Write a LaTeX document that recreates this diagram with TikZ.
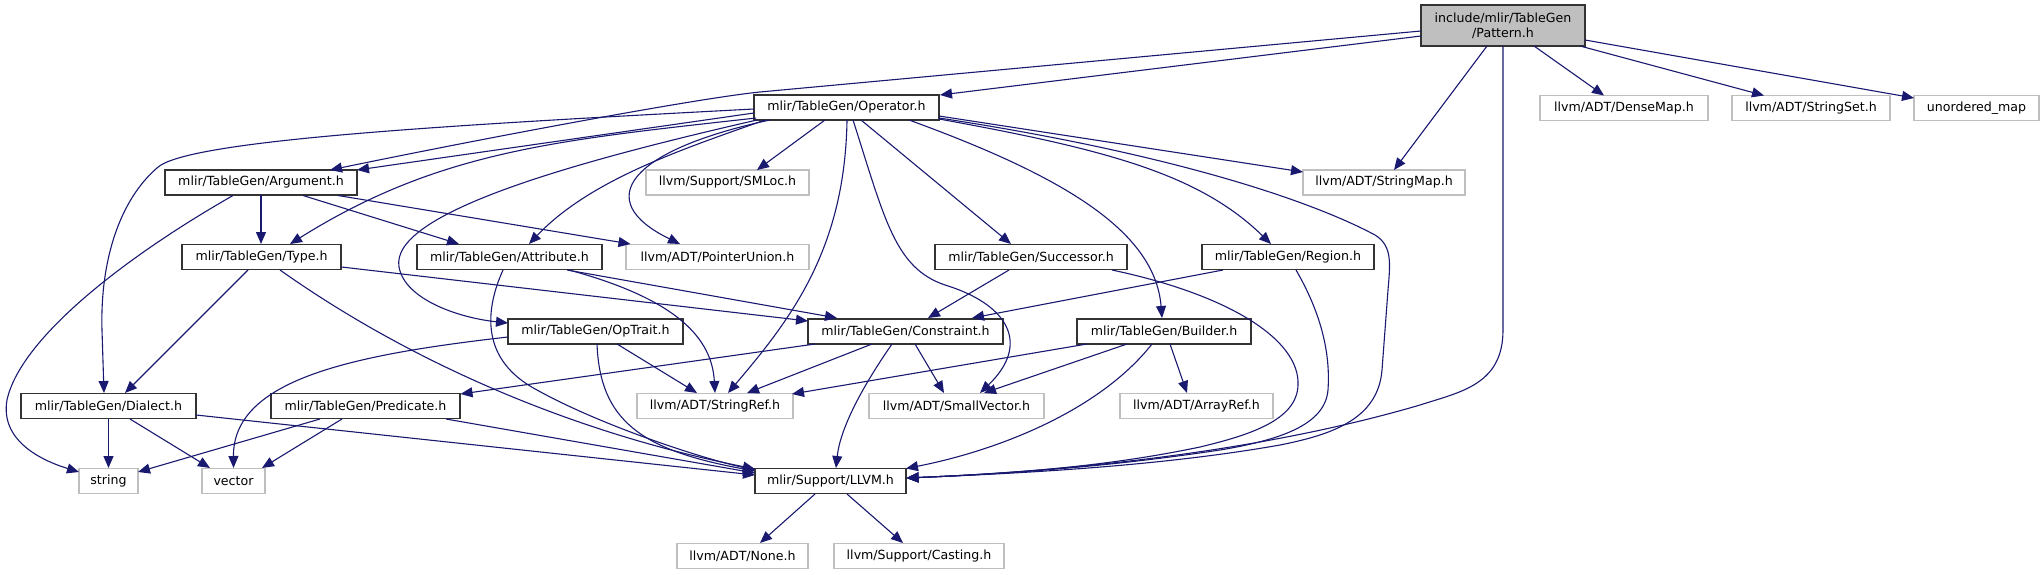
\documentclass[tikz,border=0pt]{standalone}
\usepackage{fontspec}
\setmainfont{DejaVu Sans}
\usetikzlibrary{arrows.meta,calc}
\definecolor{edgec}{HTML}{191970}
\definecolor{grayb}{HTML}{BFBFBF}
\definecolor{boxb}{HTML}{333333}
\begin{document}
\begin{tikzpicture}[x=1pt,y=-1pt,
  font=\fontsize{12.6}{15}\selectfont,
  box/.style={draw=boxb, line width=1.5pt, fill=white, inner sep=0pt, minimum height=25pt, align=center},
  ext/.style={box, draw=grayb},
  root/.style={box, fill=grayb, draw=boxb, minimum height=41pt},
  e/.style={draw=edgec, line width=1.1pt, -{Triangle[length=12pt,width=10pt]}},
]
\useasboundingbox (0,0) rectangle (2044,575);

% nodes
\node[root, minimum width=164pt] (pat) at (1503,25.5) {include/mlir/TableGen\\/Pattern.h};
\node[box, minimum width=185pt] (op) at (846.5,107.5) {mlir/TableGen/Operator.h};
\node[ext, minimum width=168pt] (dmap) at (1624,108) {llvm/ADT/DenseMap.h};
\node[ext, minimum width=158pt] (sset) at (1811,108) {llvm/ADT/StringSet.h};
\node[ext, minimum width=125pt] (umap) at (1976.5,108) {unordered\_map};
\node[box, minimum width=192pt] (arg) at (261,182.5) {mlir/TableGen/Argument.h};
\node[ext, minimum width=163pt] (sml) at (727.5,182.5) {llvm/Support/SMLoc.h};
\node[ext, minimum width=162pt] (smap) at (1384,182.5) {llvm/ADT/StringMap.h};
\node[box, minimum width=159pt] (typ) at (261.5,257) {mlir/TableGen/Type.h};
\node[box, minimum width=185pt] (att) at (509.5,257) {mlir/TableGen/Attribute.h};
\node[ext, minimum width=183pt] (pu) at (717.5,257) {llvm/ADT/PointerUnion.h};
\node[box, minimum width=192pt] (suc) at (1031,257) {mlir/TableGen/Successor.h};
\node[box, minimum width=172pt] (reg) at (1288,257) {mlir/TableGen/Region.h};
\node[box, minimum width=175pt] (opt) at (595.5,331.5) {mlir/TableGen/OpTrait.h};
\node[box, minimum width=195pt] (con) at (905.5,331.5) {mlir/TableGen/Constraint.h};
\node[box, minimum width=174pt] (bld) at (1164,331.5) {mlir/TableGen/Builder.h};
\node[box, minimum width=175pt] (dia) at (108.5,406) {mlir/TableGen/Dialect.h};
\node[box, minimum width=189pt] (pred) at (365.5,406) {mlir/TableGen/Predicate.h};
\node[ext, minimum width=156pt] (sref) at (715,406) {llvm/ADT/StringRef.h};
\node[ext, minimum width=175pt] (svec) at (956.5,406) {llvm/ADT/SmallVector.h};
\node[ext, minimum width=153pt] (aref) at (1196.5,406) {llvm/ADT/ArrayRef.h};
\node[ext, minimum width=59pt] (str) at (108.5,481) {string};
\node[ext, minimum width=63pt] (vec) at (233.5,481) {vector};
\node[box, minimum width=151pt] (llvm) at (830.5,481) {mlir/Support/LLVM.h};
\node[ext, minimum width=131pt] (none) at (742.5,556) {llvm/ADT/None.h};
\node[ext, minimum width=170pt] (cast) at (919,556) {llvm/Support/Casting.h};

% Pattern.h
\draw[e] ($(pat)+(-82,10.5)$) -- ($(op)+(93.5,-12.5)$);
\draw[e] ($(pat)+(-82,5.5)$) -- (760,92) .. controls (700,98) and (500,135) .. ($(arg)+(69,-12.5)$);
\draw[e] ($(pat)+(-16,20.5)$) -- ($(smap)+(10,-12.5)$);
\draw[e] ($(pat)+(0,20.5)$) -- (1503,330) .. controls (1503,385) and (1460,392) .. (1420,405) .. controls (1250,455) and (1050,472) .. ($(llvm)+(76,-3)$);
\draw[e] ($(pat)+(31,20.5)$) -- ($(dmap)+(-20,-12.5)$);
\draw[e] ($(pat)+(77,20.5)$) -- ($(sset)+(-47,-12.5)$);
\draw[e] ($(pat)+(82,14.5)$) -- ($(umap)+(-62.5,-10)$);

% Operator.h
\draw[e] ($(op)+(-92.5,5.5)$) -- ($(arg)+(96,-12.5)$);
\draw[e] ($(op)+(-92.5,1.5)$) .. controls (450,125) and (185,140) .. (157,168) .. controls (120,200) and (100,260) .. (102,330) -- ($(dia)+(-4.5,-13)$);
\draw[e] ($(op)+(-90.5,10.5)$) .. controls (560,140) and (440,150) .. ($(typ)+(28.5,-13)$);
\draw[e] ($(op)+(-89.5,12.5)$) .. controls (560,165) and (390,215) .. (399,267) .. controls (405,300) and (460,318) .. ($(opt)+(-87.5,-8.5)$);
\draw[e] ($(op)+(-81.5,12.5)$) .. controls (680,150) and (590,180) .. ($(att)+(19.5,-13)$);
\draw[e] ($(op)+(-76.5,12.5)$) .. controls (630,150) and (590,200) .. ($(pu)+(-37.5,-13)$);
\draw[e] ($(op)+(-21.5,12.5)$) -- ($(sml)+(29.5,-12.5)$);
\draw[e] ($(op)+(0.5,12.5)$) .. controls (845,250) and (790,320) .. ($(sref)+(13,-13)$);
\draw[e] ($(op)+(6.5,12.5)$) .. controls (885,220) and (895,268) .. (945,285) .. controls (1010,305) and (1030,345) .. ($(svec)+(23.5,-13)$);
\draw[e] ($(op)+(14.5,12.5)$) -- ($(suc)+(-20,-13)$);
\draw[e] ($(op)+(62.5,12.5)$) .. controls (1060,175) and (1155,230) .. ($(bld)+(-2,-13.5)$);
\draw[e] ($(op)+(92.5,11.5)$) .. controls (1110,150) and (1200,175) .. ($(reg)+(-17,-13)$);
\draw[e] ($(op)+(92.5,8.5)$) -- ($(smap)+(-81,-10.5)$);
\draw[e] ($(op)+(92.5,10.5)$) .. controls (1150,150) and (1300,195) .. (1375,235) .. controls (1393,246) and (1390,265) .. (1388,290) -- (1382,370) .. controls (1378,420) and (1330,435) .. (1280,445) .. controls (1150,468) and (1000,474) .. ($(llvm)+(76,-3)$);

% Successor.h, Region.h
\draw[e] ($(suc)+(-22,13)$) -- ($(con)+(22.5,-13.5)$);
\draw[e] ($(suc)+(81,13)$) .. controls (1230,295) and (1300,340) .. (1298,385) .. controls (1297,420) and (1250,435) .. (1200,447) .. controls (1100,468) and (1000,474) .. ($(llvm)+(76,-3)$);
\draw[e] ($(reg)+(-65,13)$) -- ($(con)+(66.5,-13.5)$);
\draw[e] ($(reg)+(8,13)$) .. controls (1325,320) and (1330,360) .. (1328,390) .. controls (1325,425) and (1280,440) .. (1220,450) .. controls (1100,468) and (1000,474) .. ($(llvm)+(76,-3)$);

% Builder.h
\draw[e] ($(bld)+(-77,12.5)$) -- ($(sref)+(77,-12)$);
\draw[e] ($(bld)+(-37,12.5)$) -- ($(svec)+(27.5,-13)$);
\draw[e] ($(bld)+(-12,12.5)$) .. controls (1100,410) and (1000,450) .. ($(llvm)+(75.5,-12.5)$);
\draw[e] ($(bld)+(6,12.5)$) -- ($(aref)+(-9.5,-13)$);

% Constraint.h
\draw[e] ($(con)+(-33.5,12.5)$) -- ($(sref)+(32,-13)$);
\draw[e] ($(con)+(9.5,12.5)$) -- ($(svec)+(-12.5,-13)$);
\draw[e] ($(con)+(-13.5,12.5)$) .. controls (860,390) and (840,430) .. ($(llvm)+(5.5,-13)$);
\draw[e] ($(con)+(-90.5,12.5)$) -- ($(pred)+(95,-12)$);

% Attribute.h
\draw[e] ($(att)+(57.5,13)$) -- ($(con)+(-68.5,-13.5)$);
\draw[e] ($(att)+(59.5,13)$) .. controls (680,300) and (712,340) .. ($(sref)+(0,-13)$);
\draw[e] ($(att)+(-6.5,13)$) .. controls (485,310) and (480,360) .. (537,390) .. controls (600,425) and (700,458) .. ($(llvm)+(-75.5,-11)$);

% Type.h
\draw[e] ($(typ)+(-13.5,13)$) -- ($(dia)+(16.5,-13)$);
\draw[e] ($(typ)+(80,10)$) -- ($(con)+(-97.5,-10.5)$);
\draw[e] ($(typ)+(18.5,13)$) .. controls (400,355) and (560,430) .. ($(llvm)+(-75.5,-12)$);

% Argument.h
\draw[e] ($(arg)+(0,12.5)$) -- ($(typ)+(-0.5,-13)$);
\draw[e] ($(arg)+(42,13)$) -- ($(att)+(-50.5,-13)$);
\draw[e] ($(arg)+(77,13)$) -- ($(pu)+(-87,-13)$);
\draw[e] ($(arg)+(-28,13)$) .. controls (120,260) and (20,340) .. (7,400) .. controls (0,440) and (40,460) .. ($(str)+(-29.5,-9)$);

% OpTrait.h
\draw[e] ($(opt)+(1.5,12.5)$) .. controls (600,420) and (640,450) .. ($(llvm)+(-75.5,-10)$);
\draw[e] ($(opt)+(21.5,12.5)$) -- ($(sref)+(-18,-13)$);
\draw[e] ($(opt)+(-87.5,5.5)$) .. controls (350,355) and (233,380) .. ($(vec)+(0,-13)$);

% Dialect.h
\draw[e] ($(dia)+(0,13)$) -- ($(str)+(0,-13)$);
\draw[e] ($(dia)+(21.5,13)$) -- ($(vec)+(-23.5,-13)$);
\draw[e] ($(dia)+(87.5,9)$) -- ($(llvm)+(-75.5,-6)$);

% Predicate.h
\draw[e] ($(pred)+(-45.5,13)$) -- ($(str)+(29.5,-9)$);
\draw[e] ($(pred)+(-23.5,13)$) -- ($(vec)+(28.5,-13)$);
\draw[e] ($(pred)+(80.5,13)$) -- ($(llvm)+(-75.5,-8)$);

% LLVM.h
\draw[e] ($(llvm)+(-15.5,13)$) -- ($(none)+(17.5,-13)$);
\draw[e] ($(llvm)+(16.5,13)$) -- ($(cast)+(-16,-13)$);
\end{tikzpicture}
\end{document}
